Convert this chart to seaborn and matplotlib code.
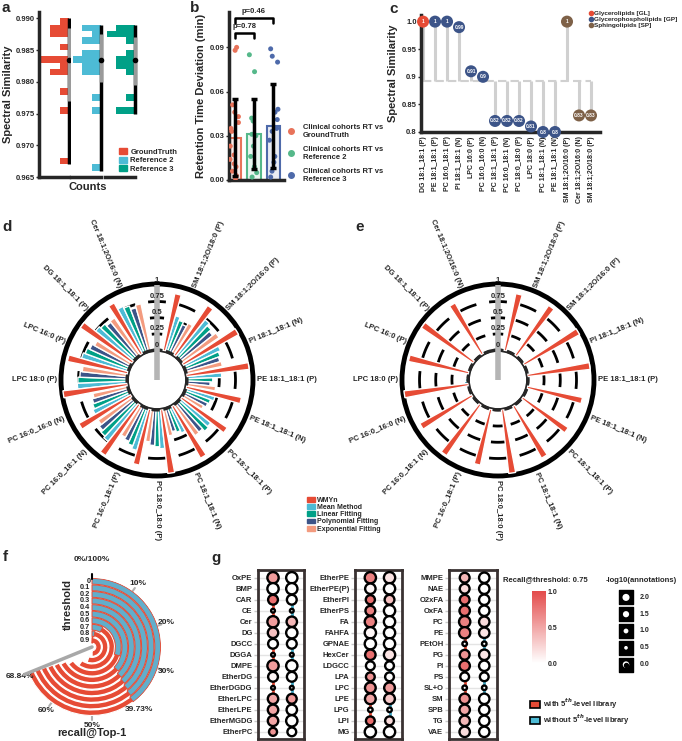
import numpy as np
import pandas as pd
import matplotlib
matplotlib.use('Agg')
import matplotlib.pyplot as plt
import seaborn as sns
from matplotlib.colors import LinearSegmentedColormap, Normalize
from matplotlib.cm import ScalarMappable
from matplotlib.lines import Line2D
from matplotlib.patches import Patch
from matplotlib.transforms import offset_copy

sns.set_theme(style='ticks')
plt.rcParams['font.family'] = ['Liberation Sans', 'DejaVu Sans']
plt.rcParams['font.weight'] = 'bold'
plt.rcParams['axes.labelweight'] = 'bold'
plt.rcParams['font.size'] = 5.5
plt.rcParams['xtick.labelsize'] = 5.5
plt.rcParams['ytick.labelsize'] = 5.5
plt.rcParams['axes.labelsize'] = 8
plt.rcParams['axes.linewidth'] = 2.5

W, H = 682, 741
RED, BLUE, TEAL, NAVY, SALMON, BROWN = '#E64B35', '#4DBBD5', '#00A087', '#3C5488', '#F39B7F', '#7E6148'

# ---------------- data ----------------
# a: histogram bins (centre) and counts, plus box summary (min, q1, median, q3, max)
gt_bins = [0.9895, 0.9885, 0.9875, 0.9855, 0.9835, 0.9825, 0.9815, 0.9785, 0.9755, 0.9675]
gt_counts = [1, 2, 2, 1, 3, 1, 2, 1, 1, 1]
ref2_bins = [0.9885, 0.9875, 0.9865, 0.9845, 0.9835, 0.9825, 0.9815, 0.9775, 0.9755, 0.9665]
ref2_counts = [2, 1, 2, 2, 3, 2, 2, 1, 1, 1]
ref3_bins = [0.9885, 0.9875, 0.9865, 0.9845, 0.9835, 0.9825, 0.9815, 0.9775, 0.9755]
ref3_counts = [2, 3, 1, 1, 2, 2, 1, 1, 2]
gt_box = [0.967, 0.977, 0.9835, 0.9885, 0.990]
ref2_box = [0.966, 0.980, 0.9835, 0.9875, 0.989]
ref3_box = [0.975, 0.9795, 0.9835, 0.987, 0.989]

# b: retention time deviation
rt_groups = ['GroundTruth', 'Reference 2', 'Reference 3']
rt_mean = [0.0287, 0.0314, 0.0365]
rt_sd = [0.0263, 0.0236, 0.0285]
rt_gt = [0.088, 0.090, 0.051, 0.046, 0.043, 0.039, 0.035, 0.033, 0.023, 0.017, 0.014, 0.011, 0.009, 0.006, 0.003, 0.001]
rt_ref2 = [0.085, 0.0735, 0.042, 0.040, 0.031, 0.030, 0.023, 0.016, 0.009, 0.005, 0.002]
rt_ref3 = [0.089, 0.084, 0.080, 0.048, 0.046, 0.041, 0.035, 0.033, 0.027, 0.016, 0.012, 0.006, 0.002]
rt_colors = ['#E8735A', '#55B88A', '#4E6AAA']

# c: lollipop
c_lipids = ['DG 18:1_18:1 (P)', 'PE 18:1_18:1 (P)', 'PC 16:0_18:1 (P)', 'PI 18:1_18:1 (N)', 'LPC 16:0 (P)',
            'PC 16:0_16:0 (N)', 'PC 18:1_18:1 (P)', 'PC 16:0_18:1 (N)', 'PC 18:0_18:0 (P)', 'LPC 18:0 (P)',
            'PC 18:1_18:1 (N)', 'PE 18:1_18:1 (N)', 'SM 18:1;2O/16:0 (P)', 'Cer 18:1;2O/16:0 (N)', 'SM 18:1;2O/18:0 (P)']
c_sim = [1, 1, 1, 0.99, 0.91, 0.9, 0.82, 0.82, 0.82, 0.81, 0.8, 0.8, 1, 0.83, 0.83]
c_class = ['Glycerolipids [GL]'] + ['Glycerophospholipids [GP]'] * 11 + ['Sphingolipids [SP]'] * 3
c_baseline = 0.893

# d / e: radial bars (clockwise from top, first slot empty)
polar_lipids = ['SM 18:1;2O/18:0 (P)', 'SM 18:1;2O/16:0 (P)', 'PI 18:1_18:1 (N)', 'PE 18:1_18:1 (P)',
                'PE 18:1_18:1 (N)', 'PC 18:1_18:1 (P)', 'PC 18:1_18:1 (N)', 'PC 18:0_18:0 (P)',
                'PC 16:0_18:1 (P)', 'PC 16:0_18:1 (N)', 'PC 16:0_16:0 (N)', 'LPC 18:0 (P)',
                'LPC 16:0 (P)', 'DG 18:1_18:1 (P)', 'Cer 18:1;2O/16:0 (N)']
methods = ['WMYn', 'Mean Method', 'Linear Fitting', 'Polynomial Fitting', 'Exponential Fitting']
d_wmyn = [0.90, 0.93, 0.98, 0.97, 0.87, 0.85, 0.92, 0.99, 0.88, 0.95, 0.92, 1.00, 0.95, 0.97, 0.90]
d_mean = [0.57, 0.73, 0.62, 0.54, 0.47, 0.60, 0.44, 0.60, 0.67, 0.75, 0.63, 0.77, 0.75, 0.75, 0.79]
d_linear = [0.52, 0.68, 0.58, 0.40, 0.42, 0.62, 0.40, 0.57, 0.62, 0.72, 0.60, 0.76, 0.72, 0.72, 0.76]
d_poly = [0.48, 0.64, 0.55, 0.36, 0.40, 0.57, 0.37, 0.55, 0.58, 0.68, 0.58, 0.73, 0.68, 0.68, 0.70]
d_exp = [0.54, 0.70, 0.57, 0.45, 0.36, 0.58, 0.42, 0.50, 0.55, 0.64, 0.55, 0.70, 0.64, 0.70, 0.74]
e_wmyn = d_wmyn
e_mean = [0, 0, 0, 0, 0, 0, 0, 0, 0, 0, 0, 0.06, 0.02, 0, 0]
e_linear = [0, 0, 0, 0, 0, 0, 0.01, 0, 0, 0, 0, 0.05, 0, 0, 0]
e_poly = [0] * 15
e_exp = [0] * 15
method_colors = [RED, BLUE, TEAL, NAVY, SALMON]

# f: recall@Top-1 (%) per threshold
f_thresholds = ['0', '0.1', '0.2', '0.3', '0.4', '0.5', '0.6', '0.7', '0.8', '0.9']
f_with = [68.84, 68.7, 68.5, 68.2, 67.8, 67.0, 65.0, 60.0, 55.0, 50.0]
f_without = [39.73, 39.3, 38.9, 38.4, 37.8, 36.8, 30.0, 8.0, 3.0, 1.0]
f_ticks = [10, 20, 30, 50, 60]

# g: dot panels
g1_classes = ['OxPE', 'BMP', 'CAR', 'CE', 'Cer', 'DG', 'DGCC', 'DGGA', 'DMPE', 'EtherDG', 'EtherDGDG',
              'EtherLPC', 'EtherLPE', 'EtherMGDG', 'EtherPC']
g1_rec_with = [0.55, 0.0, 0.8, 0.0, 0.55, 0.35, 0.0, 0.0, 0.55, 0.05, 0.0, 0.5, 0.5, 0.5, 0.6]
g1_rec_without = [0.0, 0.0, 0.0, 0.0, 0.4, 0.0, 0.0, 0.0, 0.0, 0.0, 0.0, 0.55, 0.0, 0.0, 0.0]
g1_size_with = [2.0, 2.0, 1.5, 0.2, 2.0, 1.7, 1.5, 0.2, 2.0, 1.5, 0.2, 1.7, 1.7, 1.7, 1.0]
g1_size_without = [2.0, 2.0, 1.5, 0.2, 1.7, 2.0, 1.5, 0.2, 2.0, 1.5, 0.2, 1.5, 1.7, 2.0, 1.2]
g2_classes = ['EtherPE', 'EtherPE(P)', 'EtherPI', 'EtherPS', 'FA', 'FAHFA', 'GPNAE', 'HexCer', 'LDGCC',
              'LPA', 'LPC', 'LPE', 'LPG', 'LPI', 'MG']
g2_rec_with = [0.7, 0.05, 0.8, 0.7, 0.7, 0.05, 0.0, 0.8, 0.0, 0.6, 0.6, 0.5, 0.0, 0.8, 0.0]
g2_rec_without = [0.15, 0.0, 0.35, 0.0, 0.0, 0.0, 0.0, 0.15, 0.0, 0.0, 0.55, 0.3, 0.0, 0.2, 0.0]
g2_size_with = [2.0, 1.7, 1.3, 1.5, 2.0, 2.0, 2.0, 1.7, 1.2, 1.2, 1.8, 1.8, 0.3, 1.2, 2.0]
g2_size_without = [2.0, 2.0, 1.5, 2.0, 2.0, 2.0, 2.0, 2.0, 1.2, 1.2, 1.8, 1.8, 0.3, 1.2, 2.0]
g3_classes = ['MMPE', 'NAE', 'O2xFA', 'OxFA', 'PC', 'PE', 'PEtOH', 'PG', 'PI', 'PS', 'SL+O', 'SM', 'SPB', 'TG', 'VAE']
g3_rec_with = [0.4, 0.2, 0.8, 0.8, 0.7, 0.7, 0.0, 0.6, 0.8, 0.0, 0.0, 0.6, 0.5, 0.4, 0.2]
g3_rec_without = [0.0, 0.0, 0.0, 0.0, 0.2, 0.15, 0.0, 0.15, 0.0, 0.0, 0.0, 0.0, 0.0, 0.0, 0.0]
g3_size_with = [1.5, 1.5, 1.5, 1.7, 2.0, 2.0, 0.3, 1.5, 1.7, 1.2, 0.3, 1.7, 1.7, 1.7, 1.7]
g3_size_without = [1.7, 1.7, 1.7, 1.7, 1.7, 1.7, 0.3, 1.7, 1.7, 1.2, 0.3, 1.7, 1.7, 1.7, 1.7]
size_legend_vals = ['2.0', '1.5', '1.0', '0.5', '0.0']


def px(l, t, w, h):
    return [l / W, 1 - (t + h) / H, w / W, h / H]


fig = plt.figure(figsize=(6.82, 7.41), dpi=100)

# panel letters
for letter, (x, y) in {'a': (1, 1), 'b': (190, 1), 'c': (389, 2), 'd': (2, 220), 'e': (355, 220),
                       'f': (3, 550), 'g': (211, 551)}.items():
    fig.text(x / W, 1 - y / H, letter, fontsize=11, fontweight='bold', va='top')

# ---------------- a ----------------
a_edges = list(np.round(np.arange(0.965, 0.9905, 0.001), 4))
a_sets = [(gt_bins, gt_counts, gt_box, RED, (39, 30)), (ref2_bins, ref2_counts, ref2_box, BLUE, (71, 30)),
          (ref3_bins, ref3_counts, ref3_box, TEAL, (105, 30))]
for i, (bins, counts, box, col, (x0, w)) in enumerate(a_sets):
    ax = fig.add_axes(px(x0, 12, w, 165))
    df_a = pd.DataFrame({'sim': bins, 'n': counts})
    sns.histplot(data=df_a, y='sim', weights='n', bins=a_edges, color=col, alpha=1, linewidth=0, ax=ax)
    ax.set_xlim(3.2, 0)
    ax.set_ylim(0.965, 0.991)
    ax.plot([0, 0], [box[0], box[4]], color='black', lw=2.5, clip_on=False, solid_capstyle='butt')
    ax.plot([0, 0], [box[1], box[3]], color='#9a9a9a', lw=2.5, clip_on=False, solid_capstyle='butt')
    ax.plot(0, box[2], 'o', color='black', ms=3, clip_on=False)
    ax.set_xticks([])
    ax.set_xlabel('')
    ax.set_ylabel('')
    for s in ['top', 'right']:
        ax.spines[s].set_visible(False)
    ax.spines['bottom'].set_linewidth(2.5)
    if i == 0:
        ax.set_yticks([0.965, 0.970, 0.975, 0.980, 0.985, 0.990])
        ax.set_yticklabels(['0.965', '0.970', '0.975', '0.980', '0.985', '0.990'])
        ax.tick_params(axis='y', length=2, width=1, pad=1)
        ax.set_ylabel('Spectral Similarity', labelpad=2)
    else:
        ax.spines['left'].set_visible(False)
        ax.set_yticks([])
fig.text(88 / W, 1 - 187 / H, 'Counts', fontsize=8, fontweight='bold', ha='center', va='center')
fig.legend(handles=[Patch(color=c) for c in [RED, BLUE, TEAL]], labels=['GroundTruth', 'Reference 2', 'Reference 3'],
           loc='upper left', bbox_to_anchor=(119 / W, 1 - 148 / H), frameon=False, fontsize=5.5,
           handlelength=1.1, handleheight=0.9, labelspacing=0.1, handletextpad=0.4, borderaxespad=0, borderpad=0)

# ---------------- b ----------------
ax = fig.add_axes(px(229, 12, 55, 168))
df_b = pd.DataFrame({'group': [rt_groups[0]] * len(rt_gt) + [rt_groups[1]] * len(rt_ref2) + [rt_groups[2]] * len(rt_ref3),
                     'rt': rt_gt + rt_ref2 + rt_ref3})
sns.barplot(x=rt_groups, y=rt_mean, hue=rt_groups, palette=rt_colors, width=0.68, legend=False, ax=ax)
for patch, col in zip(ax.patches, rt_colors):
    rgb = matplotlib.colors.to_rgb(col)
    patch.set_facecolor((*rgb, 0.12))
    patch.set_edgecolor(col)
    patch.set_linewidth(1.5)
np.random.seed(3)
sns.stripplot(data=df_b, x='group', y='rt', hue='group', palette=rt_colors, size=3.6, jitter=0.25,
              legend=False, ax=ax, zorder=3)
ax.errorbar(range(3), rt_mean, yerr=rt_sd, fmt='none', ecolor='black', elinewidth=2.5, capsize=2.5,
            capthick=2.5, zorder=4)
ax.plot([0, 0, 1, 1], [0.0964, 0.0997, 0.0997, 0.0964], color='black', lw=1.8, clip_on=False)
ax.text(0.5, 0.1015, 'p=0.78', ha='center', va='bottom', fontsize=5.5)
ax.plot([0, 0, 2, 2], [0.1066, 0.110, 0.110, 0.1066], color='black', lw=1.8, clip_on=False)
ax.text(1.0, 0.1118, 'p=0.46', ha='center', va='bottom', fontsize=5.5)
ax.set_xlim(-0.29, 2.55)
ax.set_ylim(0, 0.114)
ax.set_xticks([])
ax.set_xlabel('')
ax.set_yticks([0, 0.03, 0.06, 0.09])
ax.set_yticklabels(['0.00', '0.03', '0.06', '0.09'])
ax.tick_params(axis='y', length=2, width=1, pad=1)
ax.set_ylabel('Retention Time Deviation (min)', labelpad=3)
for s in ['top', 'right']:
    ax.spines[s].set_visible(False)
fig.legend(handles=[Line2D([], [], marker='o', ls='', color=c, ms=4) for c in rt_colors],
           labels=['Clinical cohorts RT vs\nGroundTruth', 'Clinical cohorts RT vs\nReference 2',
                   'Clinical cohorts RT vs\nReference 3'],
           loc='upper left', bbox_to_anchor=(283 / W, 1 - 124 / H), frameon=False, fontsize=5.5,
           labelspacing=0.9, handletextpad=0.6, borderaxespad=0, borderpad=0)

# ---------------- c ----------------
ax = fig.add_axes(px(421, 15, 179, 117))
c_x = np.arange(len(c_lipids))
c_pal = {'Glycerolipids [GL]': RED, 'Glycerophospholipids [GP]': NAVY, 'Sphingolipids [SP]': BROWN}
ax.hlines(c_baseline, 0, len(c_lipids) - 1, color='#d0d0d0', lw=1.5, linestyles=(0, (4, 2)), zorder=1)
ax.vlines(c_x, c_baseline, c_sim, color='#d0d0d0', lw=2.2, zorder=1)
sns.scatterplot(x=c_x, y=c_sim, hue=c_class, palette=c_pal, s=75, edgecolor='none', legend=False, ax=ax,
                zorder=3, clip_on=False)
for xi, v in zip(c_x, c_sim):
    ax.text(xi, v, f'{v:g}', color='white', fontsize=3.5, ha='center', va='center', zorder=4)
ax.set_xlim(-0.17, 14.75)
ax.set_ylim(0.8, 1.012)
ax.set_xticks(c_x)
ax.set_xticklabels(c_lipids, rotation=90, fontsize=5)
ax.tick_params(axis='x', length=0, pad=3)
ax.set_yticks([0.8, 0.85, 0.9, 0.95, 1.0])
ax.set_yticklabels(['0.8', '0.85', '0.9', '0.95', '1.0'])
ax.tick_params(axis='y', length=2, width=1, pad=1)
ax.set_ylabel('Spectral Similarity', labelpad=3)
for s in ['top', 'right']:
    ax.spines[s].set_visible(False)
fig.legend(handles=[Line2D([], [], marker='o', ls='', color=c, ms=3) for c in c_pal.values()],
           labels=list(c_pal.keys()), loc='upper left', bbox_to_anchor=(589 / W, 1 - 11 / H), frameon=False,
           fontsize=4.6, labelspacing=0.05, handletextpad=0.1, handlelength=0.7, borderaxespad=0, borderpad=0)


# ---------------- d / e ----------------
def radial_panel(rect, series):
    ax = fig.add_axes(px(*rect), projection='polar')
    ax.set_theta_zero_location('N')
    ax.set_theta_direction(-1)
    ax.set_ylim(0, 1.02)
    ax.set_rorigin(-0.46)
    ax.set_xticks([])
    ax.set_yticks([])
    ax.grid(False)
    ax.spines['polar'].set_linewidth(3.5)
    ax.spines['polar'].set_color('black')
    ax.spines['inner'].set_visible(False)
    slot = 22.5
    # dashed reference arcs, one per slot
    for k in range(16):
        th = np.deg2rad(np.linspace(k * slot - 6.5, k * slot + 6.5, 20))
        for r in [0, 0.25, 0.5, 0.75]:
            ax.plot(th, [r] * len(th), color='black', lw=2, zorder=0.5, solid_capstyle='butt', clip_on=False)
    bw = 4.3
    for j, (vals, col) in enumerate(zip(series, method_colors)):
        centres = [(i + 1) * slot - slot / 2 + 0.4 + bw * (j + 0.5) for i in range(len(vals))]
        ax.bar(np.deg2rad(centres), vals, width=np.deg2rad(bw), color=col, bottom=0, zorder=2 + (j == 0))
    ax.plot([0, 0], [-0.46, 1.0], color='#b5b5b5', lw=4, clip_on=False, zorder=4, solid_capstyle='butt')
    for r, lab in zip([0, 0.25, 0.5, 0.75, 1.0], ['0', '0.25', '0.5', '0.75', '1']):
        ax.text(0, r + 0.025, lab, ha='center', va='bottom', fontsize=5.5, zorder=5)
    for i, lab in enumerate(polar_lipids):
        deg = (i + 1) * slot
        if deg <= 180:
            rot, ha = 90 - deg, 'left'
        else:
            rot, ha = 270 - deg, 'right'
        ax.text(np.deg2rad(deg), 1.08, lab, rotation=rot, rotation_mode='anchor', ha=ha, va='center',
                fontsize=5.5, clip_on=False)
    return ax


radial_panel((61, 284, 192, 192), [d_wmyn, d_mean, d_linear, d_poly, d_exp])
radial_panel((402, 284, 192, 192), [e_wmyn, e_mean, e_linear, e_poly, e_exp])
fig.legend(handles=[Patch(color=c) for c in method_colors], labels=methods, loc='upper left',
           bbox_to_anchor=(307 / W, 1 - 497 / H), frameon=False, fontsize=5, handlelength=1.1,
           handleheight=0.7, labelspacing=0.02, handletextpad=0.3, borderaxespad=0, borderpad=0)

# ---------------- f ----------------
ax = fig.add_axes(px(23, 578, 138, 138), projection='polar')
ax.set_theta_zero_location('N')
ax.set_theta_direction(-1)
ax.set_ylim(0, 10)
ax.set_rorigin(-0.5)
ax.axis('off')
n_f = len(f_thresholds)
for k in range(n_f):
    bottom = n_f - 1 - k + 0.06
    ax.bar(0, 0.88, width=2 * np.pi * f_with[k] / 100, bottom=bottom, align='edge', color=RED, zorder=2)
    ax.bar(0, 0.88, width=2 * np.pi * f_without[k] / 100, bottom=bottom, align='edge', color='#62AECB',
           edgecolor=RED, linewidth=0.7, zorder=3)
    ax.text(0, bottom + 0.44, f_thresholds[k], ha='right', va='center', fontsize=5.3,
            transform=offset_copy(ax.transData, fig=fig, x=-1.5, units='dots'))
th68 = 2 * np.pi * f_with[0] / 100
ax.plot([th68, th68], [-0.5, 10.6], color='#a8a8a8', lw=2.5, clip_on=False, zorder=4)
for t in f_ticks:
    th = 2 * np.pi * t / 100
    ax.plot([th, th], [9.9, 10.6], color='#b0b0b0', lw=1.5, clip_on=False, zorder=1)
ax.plot([0, 0], [9.8, 10.6], color='black', lw=1.5, clip_on=False, zorder=4)
for t, lab in [(10, '10%'), (20, '20%'), (30, '30%'), (f_without[0], f'{f_without[0]:.2f}%'), (50, '50%'),
               (60, '60%'), (f_with[0], f'{f_with[0]:.2f}%')]:
    ax.text(2 * np.pi * t / 100, 11.4, lab, ha='center', va='center', fontsize=6, clip_on=False)
ax.text(0, 12.8, '0%/100%', ha='center', va='center', fontsize=6, clip_on=False)
fig.text(68 / W, 1 - 605 / H, 'threshold', rotation=90, fontsize=8, fontweight='bold', ha='center', va='center')
fig.text(92 / W, 1 - 733 / H, 'recall@Top-1', fontsize=8, fontweight='bold', ha='center', va='center')

# ---------------- g ----------------
recall_cmap = LinearSegmentedColormap.from_list('recall', ['#FFFFFF', '#E34B4B'])


def dot_panel(rect, classes, rec_w, rec_wo, size_w, size_wo):
    ax = fig.add_axes(px(*rect))
    n = len(classes)
    df = pd.DataFrame({'col': [0] * n + [1] * n, 'row': list(range(n)) * 2,
                       'recall': rec_w + rec_wo, 'size': size_w + size_wo})
    ax.hlines(range(n), -1, 2, color='#e4e4e4', lw=1, zorder=0)
    ax.plot([0] * n, range(n), color=RED, lw=2, zorder=1)
    ax.plot([1] * n, range(n), color='#3FA7C4', lw=2, zorder=1)
    sns.scatterplot(data=df, x='col', y='row', hue='recall', hue_norm=(0, 1), palette=recall_cmap,
                    size='size', size_norm=(0, 2), sizes=(1, 66), edgecolor='black', linewidth=1.7,
                    legend=False, ax=ax, zorder=3)
    ax.set_xlim(-0.8, 1.65)
    ax.set_ylim(n - 0.35, -0.7)
    ax.set_xticks([])
    ax.set_xlabel('')
    ax.set_ylabel('')
    ax.set_yticks(range(n))
    ax.set_yticklabels(classes, fontsize=5.5)
    ax.tick_params(axis='y', length=3, width=1, color='#c8c8c8', pad=1)
    for s in ax.spines.values():
        s.set_linewidth(2)
        s.set_color('#3a3232')


dot_panel((258, 570, 46, 169), g1_classes, g1_rec_with, g1_rec_without, g1_size_with, g1_size_without)
dot_panel((355, 570, 47, 169), g2_classes, g2_rec_with, g2_rec_without, g2_size_with, g2_size_without)
dot_panel((449, 570, 48, 169), g3_classes, g3_rec_with, g3_rec_without, g3_size_with, g3_size_without)

fig.text(503 / W, 1 - 580 / H, 'Recall@threshold: 0.75', fontsize=5.5, fontweight='bold', va='center')
cax = fig.add_axes(px(532, 591, 14, 72))
cb = fig.colorbar(ScalarMappable(norm=Normalize(0, 1), cmap=recall_cmap), cax=cax)
cb.outline.set_visible(False)
cb.set_ticks([0, 0.5, 1])
cb.set_ticklabels(['0.0', '0.5', '1.0'])
cax.tick_params(length=0, labelsize=5, pad=1)

fig.text(606 / W, 1 - 580 / H, '-log10(annotations)', fontsize=5.5, fontweight='bold', va='center')
sax = fig.add_axes(px(612, 589, 50, 84))
sax.axis('off')
sax.set_xlim(0, 1)
sax.set_ylim(4.5, -0.5)
sax.scatter([0.28] * 5, range(5), marker='s', s=88, color='black')
sax.scatter([0.28] * 5, range(5), marker='o', s=[26, 20, 12, 7, 22], color='white', edgecolor='none')
sax.scatter([0.28], [4], marker='o', s=8, color='black')
for i, lab in enumerate(size_legend_vals):
    sax.text(0.56, i, lab, fontsize=5, va='center')

fig.legend(handles=[Patch(facecolor=RED, edgecolor='black', lw=1.2), Patch(facecolor='#4DBBD5', edgecolor='black', lw=1.2)],
           labels=['with 5$^{th}$-level library', 'without 5$^{th}$-level library'], loc='upper left',
           bbox_to_anchor=(530 / W, 1 - 697 / H), frameon=False, fontsize=5.5, handlelength=1.3,
           handleheight=1.1, labelspacing=0.15, handletextpad=0.4, borderaxespad=0, borderpad=0)

fig.savefig('out.png', dpi=100)
